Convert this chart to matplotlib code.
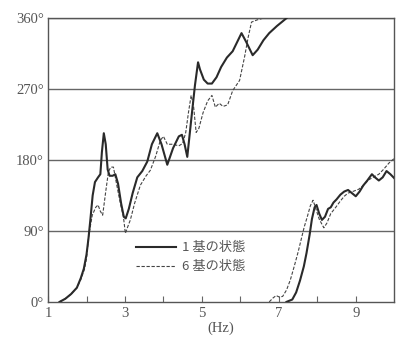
import matplotlib
matplotlib.use("Agg")
import matplotlib.pyplot as plt

# phase (deg) vs frequency (Hz)
# 1 unit, first branch
one_x = [1.3, 1.45, 1.6, 1.75, 1.85, 1.93, 2.0, 2.05, 2.1, 2.16, 2.22, 2.3, 2.36, 2.4, 2.45,
         2.5, 2.55, 2.6, 2.68, 2.75, 2.82, 2.9, 2.97, 3.02, 3.1, 3.2, 3.32, 3.45, 3.58, 3.7,
         3.84, 3.95, 4.1, 4.25, 4.4, 4.48, 4.55, 4.62, 4.72, 4.82, 4.9, 4.95, 5.05, 5.15,
         5.26, 5.38, 5.5, 5.65, 5.8, 5.92, 6.03, 6.15, 6.32, 6.45, 6.6, 6.75, 6.95, 7.2]
one_y = [0, 4, 10, 18, 30, 42, 60, 80, 104, 135, 152, 158, 162, 190, 214,
         200, 168, 160, 160, 162, 150, 125, 108, 106, 118, 138, 158, 166, 178, 200,
         214, 200, 174, 195, 210, 212, 200, 184, 230, 275, 304, 295, 282, 277,
         277, 285, 298, 310, 318, 330, 341, 330, 313, 320, 332, 341, 350, 360]
# 1 unit, second branch (wrapped)
one_x2 = [7.2, 7.35, 7.45, 7.55, 7.65, 7.72, 7.8, 7.86, 7.93, 7.98, 8.05, 8.12, 8.2, 8.28,
          8.35, 8.42, 8.5, 8.6, 8.7, 8.8, 8.9, 9.0, 9.1, 9.2, 9.3, 9.42, 9.5, 9.6, 9.7,
          9.8, 9.9, 10.0]
one_y2 = [0, 3, 12, 27, 45, 62, 85, 105, 120, 123, 112, 104, 108, 118,
          120, 126, 130, 136, 140, 142, 138, 134, 140, 148, 154, 162, 158, 154, 158,
          166, 162, 157]

# 6 units, first branch
six_x = [1.3, 1.45, 1.6, 1.75, 1.85, 1.95, 2.0, 2.06, 2.15, 2.24, 2.3, 2.36, 2.42, 2.5,
         2.57, 2.63, 2.7, 2.78, 2.88, 2.96, 3.01, 3.07, 3.14, 3.25, 3.4, 3.55, 3.66, 3.8,
         3.92, 4.0, 4.1, 4.25, 4.4, 4.5, 4.58, 4.65, 4.72, 4.78, 4.85, 4.92, 5.03, 5.15,
         5.26, 5.35, 5.45, 5.55, 5.67, 5.8, 5.98, 6.11, 6.2, 6.29, 6.45, 6.6]
six_y = [0, 4, 10, 18, 28, 42, 55, 85, 110, 120, 123, 115, 110, 140,
         165, 171, 171, 150, 125, 108, 87, 95, 104, 125, 148, 160, 167, 185,
         205, 210, 200, 200, 198, 201, 215, 240, 262, 250, 215, 220, 240, 255,
         262, 247, 252, 248, 250, 268, 281, 311, 335, 355, 358, 360]
# 6 units, second branch (wrapped)
six_x2 = [6.75, 6.85, 6.93, 7.02, 7.1, 7.2, 7.3, 7.4, 7.5, 7.58, 7.66, 7.74, 7.82, 7.89,
          7.95, 8.05, 8.17, 8.25, 8.35, 8.48, 8.6, 8.7, 8.8, 8.92, 9.08, 9.2, 9.34, 9.45,
          9.6, 9.72, 9.86, 10.0]
six_y2 = [0, 5, 8, 6, 7, 15, 28, 45, 63, 79, 95, 108, 122, 129,
          120, 105, 94, 100, 112, 120, 128, 134, 138, 140, 143, 148, 155, 158,
          162, 168, 176, 182]

labels = ["1 基の状態", "6 基の状態"]
x_ticks = [1, 2, 3, 4, 5, 6, 7, 8, 9]
x_ticklabels = ["1", "", "3", "", "5", "", "7", "", "9"]
y_ticks = [0, 90, 180, 270, 360]
y_ticklabels = ["0°", "90°", "180°", "270°", "360°"]

ink = "#2a2a2a"
grey = "#555555"

fig = plt.figure(figsize=(3.97, 3.49), dpi=100)
ax = fig.add_axes([0.121, 0.135, 0.872, 0.813])

for y in y_ticks[1:]:
    ax.axhline(y, color="#666666", lw=1.0, zorder=1)

ax.plot(one_x, one_y, color=ink, lw=1.5, label=labels[0], zorder=3)
ax.plot(one_x2, one_y2, color=ink, lw=1.5, zorder=3)
ax.plot(six_x, six_y, color="#444444", lw=0.8, ls=(0, (3, 1.5)), label=labels[1], zorder=2)
ax.plot(six_x2, six_y2, color="#444444", lw=0.8, ls=(0, (3, 1.5)), zorder=2)

ax.set_xlim(1, 10)
ax.set_ylim(0, 360)
ax.set_xticks(x_ticks)
ax.set_xticklabels(x_ticklabels, family="Liberation Serif", fontsize=10.5, color=grey)
ax.set_yticks(y_ticks)
ax.set_yticklabels(y_ticklabels, family="Liberation Serif", fontsize=10.5, color=grey)
ax.tick_params(axis="x", direction="in", length=4, width=0.8, color="#666666", pad=4)
ax.tick_params(axis="y", length=0, pad=3)
ax.set_xlabel("(Hz)", family="Liberation Serif", fontsize=10.5, color=grey, labelpad=1)

for s in ax.spines.values():
    s.set_color("#555555")
    s.set_linewidth(1.0)

ax.legend(loc="center left", bbox_to_anchor=(0.254, 0.157), frameon=False,
          borderpad=0, borderaxespad=0, handlelength=3.0, handletextpad=0.5,
          labelspacing=0.45, prop={"family": "Noto Sans CJK JP", "size": 9.5},
          labelcolor=grey)

fig.savefig("out.png", dpi=100)
